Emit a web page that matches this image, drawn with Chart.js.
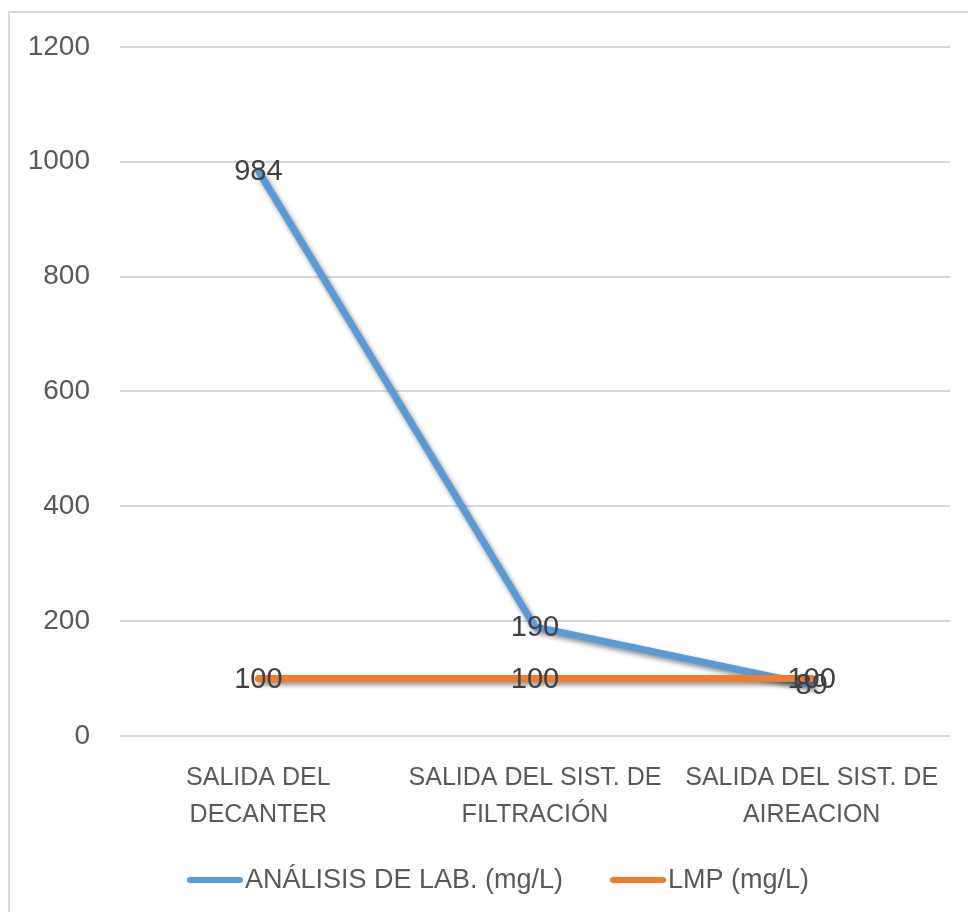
<!DOCTYPE html>
<html>
<head>
<meta charset="utf-8">
<script src="https://cdn.jsdelivr.net/npm/chart.js@4.4.1/dist/chart.umd.min.js"></script>
<style>
  html, body { margin: 0; padding: 0; background: #fff; overflow: hidden; }
  #wrap { position: relative; width: 968px; height: 912px; }
  #frame { position: absolute; left: 8px; top: 11px; width: 1100px; height: 1100px; border: 2px solid #d9d9d9; box-sizing: border-box; }
  canvas { position: absolute; left: 0; top: 0; }
</style>
</head>
<body>
<div id="wrap">
  <div id="frame"></div>
  <canvas id="c" width="968" height="912"></canvas>
</div>
<script>
const categories = [
  ["SALIDA DEL", "DECANTER"],
  ["SALIDA DEL SIST. DE", "FILTRACIÓN"],
  ["SALIDA DEL SIST. DE", "AIREACION"]
];
const seriesNames = ["ANÁLISIS DE LAB. (mg/L)", "LMP (mg/L)"];
const analisisValues = [984, 190, 89];
const lmpValues = [100, 100, 100];
const yTicks = [0, 200, 400, 600, 800, 1000, 1200];
const seriesColors = ["#5B9BD5", "#ED7D31"];

const FONT = '"Liberation Sans", Arial, sans-serif';

const shadowPlugin = {
  id: 'shadow',
  beforeDatasetDraw(chart) {
    const ctx = chart.ctx;
    ctx.save();
    ctx.shadowColor = 'rgba(0,0,0,0.45)';
    ctx.shadowBlur = 5;
    ctx.shadowOffsetX = 2;
    ctx.shadowOffsetY = 3;
  },
  afterDatasetDraw(chart) {
    chart.ctx.restore();
  }
};

const labelsPlugin = {
  id: 'dataLabels',
  afterDatasetsDraw(chart) {
    const ctx = chart.ctx;
    ctx.save();
    ctx.font = '29px ' + FONT;
    ctx.fillStyle = '#404040';
    ctx.textAlign = 'center';
    ctx.textBaseline = 'middle';
    chart.data.datasets.forEach((ds, i) => {
      const meta = chart.getDatasetMeta(i);
      meta.data.forEach((pt, j) => {
        ctx.fillText(String(ds.data[j]), pt.x, pt.y + 1);
      });
    });
    ctx.restore();
  }
};

const legendPlugin = {
  id: 'customLegend',
  afterDraw(chart) {
    const ctx = chart.ctx;
    ctx.save();
    ctx.font = '27px ' + FONT;
    const lineW = 56, gap = 2, spacing = 47;
    const w0 = ctx.measureText(seriesNames[0]).width;
    const w1 = ctx.measureText(seriesNames[1]).width;
    const total = lineW + gap + w0 + spacing + lineW + gap + w1;
    let x = 498 - total / 2;
    const y = 880;
    ctx.textBaseline = 'middle';
    ctx.textAlign = 'left';
    [w0, w1].forEach((w, i) => {
      ctx.strokeStyle = seriesColors[i];
      ctx.lineWidth = 6;
      ctx.lineCap = 'round';
      ctx.beginPath();
      ctx.moveTo(x + 3, y);
      ctx.lineTo(x + lineW - 3, y);
      ctx.stroke();
      ctx.fillStyle = '#595959';
      ctx.fillText(seriesNames[i], x + lineW + gap, y + 1);
      x += lineW + gap + w + spacing;
    });
    ctx.restore();
  }
};

new Chart(document.getElementById('c'), {
  type: 'line',
  data: {
    labels: categories,
    datasets: [
      {
        label: seriesNames[0],
        data: analisisValues,
        borderColor: seriesColors[0],
        backgroundColor: seriesColors[0],
        borderWidth: 7,
        pointRadius: 0,
        borderCapStyle: 'round',
        borderJoinStyle: 'round',
        tension: 0,
        order: 1
      },
      {
        label: seriesNames[1],
        data: lmpValues,
        borderColor: seriesColors[1],
        backgroundColor: seriesColors[1],
        borderWidth: 7,
        pointRadius: 0,
        borderCapStyle: 'round',
        borderJoinStyle: 'round',
        tension: 0,
        order: 0
      }
    ]
  },
  options: {
    responsive: false,
    animation: false,
    layout: { padding: { left: 0, right: 18, top: 45, bottom: 0 } },
    plugins: {
      legend: { display: false },
      tooltip: { enabled: false }
    },
    scales: {
      x: {
        offset: true,
        grid: { display: false, drawTicks: false },
        border: { display: false },
        ticks: {
          color: '#595959',
          font: { family: FONT, size: 25, lineHeight: 1.48 },
          padding: 24,
          maxRotation: 0,
          autoSkip: false
        },
        afterFit(scale) { scale.height = 176; }
      },
      y: {
        min: 0,
        max: 1200,
        afterBuildTicks(scale) { scale.ticks = yTicks.map(v => ({ value: v })); },
        grid: { color: '#d9d9d9', lineWidth: 2, drawTicks: false },
        border: { display: false },
        ticks: {
          color: '#595959',
          font: { family: FONT, size: 28 },
          padding: 30,
          callback: (v) => String(v)
        },
        afterFit(scale) { scale.width = 120; }
      }
    }
  },
  plugins: [shadowPlugin, labelsPlugin, legendPlugin]
});
</script>
</body>
</html>
